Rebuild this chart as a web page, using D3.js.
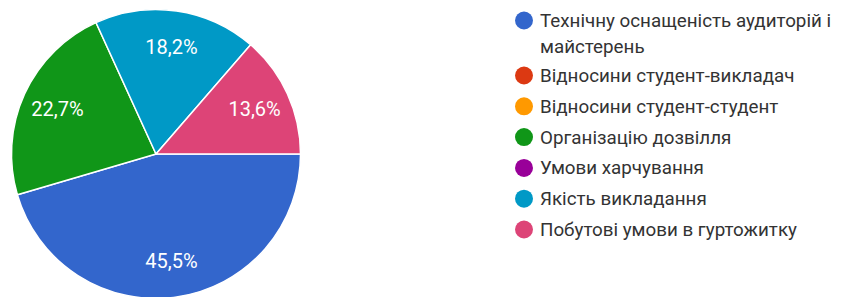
<!DOCTYPE html>
<html>
  <head>
    <meta charset="utf-8">
    <script src="https://d3js.org/d3.v7.min.js"></script>
    <style>
      body { margin: 0px; background: #fff; }
      svg { display: block; }
      .slice-label {
        fill: #fff;
        font-size: 20px;
        font-family: Roboto, sans-serif;
      }
      .legend text {
        fill: #333;
        font-size: 18.8px;
        font-family: Roboto, sans-serif;
      }
    </style>
  </head>
  <body>
    <svg width="841" height="297"></svg>
    <script>
      // answers and their counts (22 responses)
      const categories = [
        'Технічну оснащеність аудиторій і майстерень',
        'Відносини студент-викладач',
        'Відносини студент-студент',
        'Організацію дозвілля',
        'Умови харчування',
        'Якість викладання',
        'Побутові умови в гуртожитку'
      ];
      const counts = [10, 0, 0, 5, 0, 4, 3];
      const colors = ['#3366cc', '#dc3912', '#ff9900', '#109618', '#990099', '#0099c6', '#dd4477'];

      const svg = d3.select('svg');
      const cx = 156, cy = 154, radius = 144.5;
      const total = d3.sum(counts);

      const data = categories.map((c, i) => ({ name: c, value: counts[i], color: colors[i] }));

      const pie = d3.pie()
        .value(d => d.value)
        .sort(null)
        .startAngle(Math.PI / 2)
        .endAngle(Math.PI / 2 + 2 * Math.PI);

      const arc = d3.arc().innerRadius(0).outerRadius(radius);
      const labelArc = d3.arc().innerRadius(radius * 0.75).outerRadius(radius * 0.75);

      const g = svg.append('g').attr('transform', `translate(${cx}, ${cy})`);
      const arcs = pie(data).filter(d => d.data.value > 0);

      g.selectAll('path').data(arcs)
        .enter().append('path')
          .attr('d', arc)
          .attr('fill', d => d.data.color)
          .attr('stroke', '#fff')
          .attr('stroke-width', 1.5);

      const fmt = v => (Math.round(v * 1000) / 10).toFixed(1).replace('.', ',') + '%';
      g.selectAll('.slice-label').data(arcs)
        .enter().append('text')
          .attr('class', 'slice-label')
          .attr('transform', d => `translate(${labelArc.centroid(d)})`)
          .attr('text-anchor', 'middle')
          .attr('dy', '0.35em')
          .text(d => fmt(d.data.value / total));

      // legend, wrapping long labels
      const legend = svg.append('g').attr('class', 'legend');
      const maxWidth = 300;
      let y = 20.5;
      data.forEach(d => {
        legend.append('circle')
          .attr('cx', 524).attr('cy', y).attr('r', 9)
          .attr('fill', d.color);
        const words = d.name.split(' ');
        let line = [];
        let t = legend.append('text').attr('x', 540).attr('y', y).attr('dy', '0.35em');
        let lines = 1;
        words.forEach(w => {
          line.push(w);
          t.text(line.join(' '));
          if (t.node().getComputedTextLength() > maxWidth && line.length > 1) {
            line.pop();
            t.text(line.join(' '));
            line = [w];
            t = legend.append('text').attr('x', 540).attr('y', y + 26 * lines).attr('dy', '0.35em').text(w);
            lines++;
          }
        });
        y += lines > 1 ? 26 * (lines - 1) + 29 : 30.8;
      });
    </script>
  </body>
</html>
